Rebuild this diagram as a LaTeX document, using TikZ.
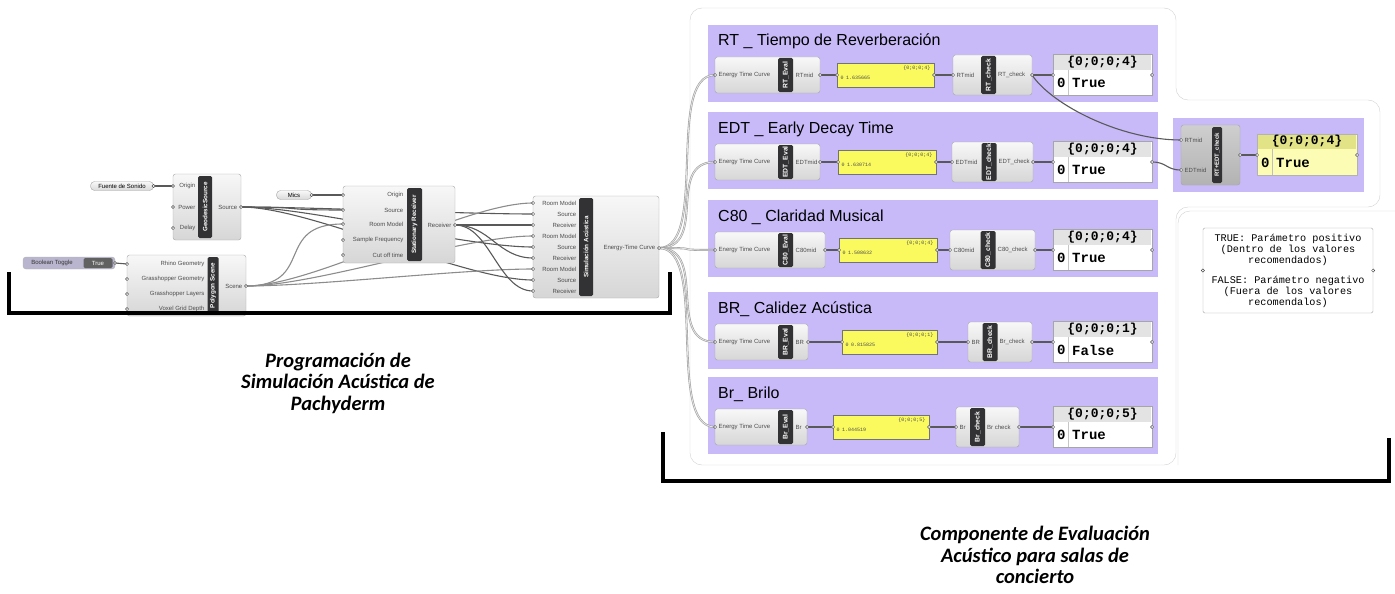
\documentclass[tikz,border=0pt]{standalone}
\usepackage{fontspec}
\setmainfont{Liberation Sans}
\newfontfamily\panelfont{Liberation Mono}
\newfontfamily\notefont{Carlito}
\usepackage{tikz}

\definecolor{grppurple}{RGB}{200,186,248}
\definecolor{panelyellow}{RGB}{250,250,95}
\definecolor{paleyellow}{RGB}{252,252,180}
\definecolor{headyellow}{RGB}{226,226,135}
\definecolor{stripdark}{RGB}{50,50,52}
\definecolor{togglegrey}{RGB}{186,181,206}

\pgfdeclarelayer{back}
\pgfdeclarelayer{wires}
\pgfsetlayers{back,wires,main}

\tikzset{
  comp/.style={draw=gray!70, rounded corners=2.5pt, top color=gray!6, bottom color=gray!32, inner sep=0pt},
  strip/.style={fill=stripdark, rounded corners=1.5pt, rotate=90, inner sep=0pt, text=white, font=\fontsize{6.3}{7}\selectfont\bfseries},
  rowstrip/.style={strip, minimum height=15, font=\fontsize{6.8}{7}\selectfont\bfseries},
  tag/.style={font=\fontsize{6}{7}\selectfont, text=black!70, inner sep=0.5pt},
  pill/.style={draw=gray!70, rounded corners=4pt, top color=gray!5, bottom color=gray!30, inner sep=0pt, font=\fontsize{6}{7}\selectfont},
  group/.style={fill=grppurple, inner sep=0pt},
  title/.style={font=\fontsize{16}{18}\selectfont, anchor=base west, inner sep=0pt},
  valpanel/.style={draw=black!55, fill=panelyellow, inner sep=0pt},
  valtext/.style={font=\panelfont\fontsize{5}{6}\selectfont, text=black!70, inner sep=0.5pt},
  respanel/.style={draw=gray!70, fill=white, inner sep=0pt, minimum width=99, minimum height=41},
  restext/.style={font=\panelfont\bfseries\fontsize{14}{15}\selectfont, inner sep=0pt},
  wire/.style={draw=black!65, line width=1.1pt},
  listwire/.style={draw=gray!75, double=gray!20, double distance=0.8pt, line width=0.6pt},
  grip/.style={draw=black!70, fill=white, line width=0.5pt},
  bracket/.style={line width=3.5pt},
  caption/.style={font=\notefont\bfseries\itshape\fontsize{20.5}{21.5}\selectfont, align=center}
}

\begin{document}
\begin{tikzpicture}[x=1pt,y=-1pt]
\useasboundingbox (0,0) rectangle (1395,594);

% white containers on the right
\begin{pgfonlayer}{back}
\draw[gray!35, fill=white, rounded corners=12pt] (690,8) -- (1176,8) -- (1176,100) -- (1380,100) -- (1380,207) -- (1176,207) -- (1176,465) -- (690,465) -- cycle;
\draw[gray!35, rounded corners=12pt] (1178,465) -- (1178,211) -- (1398,211);
\end{pgfonlayer}

% geodesic source
\node[pill, minimum width=63, minimum height=9] (fuente) at (122,186) {Fuente de Sonido};
\draw[grip] (fuente.east) circle (1.6pt);
\node[comp, minimum width=68, minimum height=66] (geo) at (207,207) {};
\node[strip, minimum width=62, minimum height=14] (geo-s) at (205,207) {GeodesicSource};
\foreach \y/\t [count=\k] in {186/Origin,207/Power,228/Delay}{
  \coordinate (geo-in\k) at (173,\y);
  \node[tag, anchor=east] (geo-t\k) at (196,\y) {\t};
  \draw[grip] (geo-in\k) circle (1.6pt);
}
\coordinate (geo-out) at (241,207);
\node[tag, anchor=east] (geo-o) at (238,207) {Source};
\draw[grip] (geo-out) circle (1.6pt);

% toggle and polygon scene
\node[draw=gray!60, fill=togglegrey, rounded corners=3pt, minimum width=92, minimum height=12, inner sep=0pt] (toggle) at (69,263) {};
\node[font=\fontsize{6}{7}\selectfont, text=black!80, inner sep=0pt] (toggle-t) at (52,263) {Boolean Toggle};
\node[fill=black!62, rounded corners=1.5pt, minimum width=29, minimum height=10, inner sep=0pt, text=white, font=\fontsize{6}{7}\selectfont] (toggle-v) at (98,263) {True};
\coordinate (toggle-out) at (115,263);
\draw[grip] (toggle-out) circle (1.6pt);
\node[comp, minimum width=119, minimum height=61] (scene) at (186.5,285.5) {};
\node[strip, minimum width=57, minimum height=11] (scene-s) at (213,285.5) {Polygon Scene};
\foreach \y/\t [count=\k] in {264/Rhino Geometry,279/Grasshopper Geometry,294/Grasshopper Layers,309/Voxel Grid Depth}{
  \coordinate (scene-in\k) at (127,\y);
  \node[tag, anchor=east] (scene-t\k) at (205,\y) {\t};
  \draw[grip] (scene-in\k) circle (1.6pt);
}
\coordinate (scene-out) at (246,286);
\node[tag, anchor=east] (scene-o) at (243,286) {Scene};
\draw[grip] (scene-out) circle (1.6pt);

% stationary receiver
\node[pill, minimum width=35, minimum height=9] (mics) at (294,195) {Mics};
\draw[grip] (mics.east) circle (1.6pt);
\node[comp, minimum width=112, minimum height=77] (recv) at (399,224.5) {};
\node[strip, minimum width=73, minimum height=15] (recv-s) at (414.5,224.5) {Stationary Receiver};
\foreach \y/\t [count=\k] in {195/Origin,210/Source,224/Room Model,240/Sample Frequency,255/Cut off time}{
  \coordinate (recv-in\k) at (343,\y);
  \node[tag, anchor=east] (recv-t\k) at (404,\y) {\t};
  \draw[grip] (recv-in\k) circle (1.6pt);
}
\coordinate (recv-out) at (455,225);
\node[tag, anchor=east] (recv-o) at (452,225) {Receiver};
\draw[grip] (recv-out) circle (1.6pt);

% simulation
\node[comp, minimum width=126, minimum height=102] (sim) at (596,247) {};
\node[strip, minimum width=98, minimum height=14] (sim-s) at (586,247) {Simulación Acústica};
\foreach \t [count=\k] in {Room Model,Source,Receiver,Room Model,Source,Receiver,Room Model,Source,Receiver}{
  \pgfmathsetmacro\yy{192+11*\k}
  \coordinate (sim-in\k) at (533,\yy);
  \node[tag, anchor=east] (sim-t\k) at (577,\yy) {\t};
  \draw[grip] (sim-in\k) circle (1.6pt);
}
\coordinate (sim-out) at (659,248);
\node[tag, anchor=east] (sim-o) at (656,248) {Energy-Time Curve};
\draw[grip] (sim-out) circle (1.6pt);

% wires, left part
\begin{pgfonlayer}{wires}
\draw[wire] (fuente.east) -- (geo-in1);
\draw[wire] (mics.east) -- (recv-in1);
\draw[wire] (toggle-out) -- (scene-in1);
\foreach \q in {recv-in2,sim-in2,sim-in5,sim-in8}
  \draw[wire] (geo-out) .. controls +(70,0) and +(-70,0) .. (\q);
\foreach \q in {recv-in3,sim-in1,sim-in4,sim-in7}
  \draw[wire, draw=black!45] (scene-out) .. controls +(70,0) and +(-70,0) .. (\q);
\foreach \q in {sim-in3,sim-in6,sim-in9}
  \draw[wire] (recv-out) .. controls +(35,0) and +(-35,0) .. (\q);
\end{pgfonlayer}

% evaluation rows
\foreach \r/\T/\ttl/\ev/\eo/\ci/\co/\cd/\ER/\YL/\YR/\CL/\CR/\SX/\val/\hd/\res in {
  1/25/RT \_ Tiempo de Reverberación/RT\_Eval/RTmid/RTmid/RT\_check/RT\_check/820/837/934/953/1032/988.5/1.635665/0;0;0;4/True,
  2/112/EDT \_ Early Decay Time/EDT\_Eval/EDTmid/EDTmid/EDT\_check/EDT\_check/820/838/936/952/1033/989/1.630714/0;0;0;4/True,
  3/200/C80 \_ Claridad Musical/C80\_Eval/C80mid/C80mid/C80\_check/C80\_check/825/839/937/950/1035/988/1.508632/0;0;0;4/True,
  4/292/BR\_ Calidez Acústica/BR\_Eval/BR/BR/Br\_check/BR\_check/808/842/937/968/1032/990/0.815825/0;0;0;1/False,
  5/377/Br\_ Brilo/Br\_Eval/Br/Br/Br check/Br\_check/807/833/929/956/1019/977.5/1.044519/0;0;0;5/True}{
  \pgfmathsetmacro\ew{\ER-715}
  \pgfmathsetmacro\ex{(\ER+715)/2}
  \pgfmathsetmacro\yw{\YR-\YL}
  \pgfmathsetmacro\yx{(\YR+\YL)/2}
  \pgfmathsetmacro\cw{\CR-\CL}
  \pgfmathsetmacro\cx{(\CR+\CL)/2}
  \pgfmathsetmacro\ym{\T+50}
  \begin{pgfonlayer}{back}
  \node[group, minimum width=450, minimum height=77] (grp\r) at (933,\T+38.5) {};
  \end{pgfonlayer}
  \node[title] (ttl\r) at (718,\T+21) {\ttl};
  % evaluator
  \node[comp, minimum width=\ew, minimum height=36] (ev\r) at (\ex,\ym) {};
  \node[rowstrip, minimum width=34] (ev\r-s) at (785.5,\ym) {\ev};
  \node[tag, anchor=west] (ev\r-t) at (718,\ym) {Energy Time Curve};
  \node[tag, anchor=west] (ev\r-o) at (795,\ym) {\eo};
  \coordinate (ev\r-in) at (715,\ym);
  \coordinate (ev\r-out) at (\ER,\ym);
  % value panel
  \node[valpanel, minimum width=\yw, minimum height=24] (val\r) at (\yx,\ym) {};
  \node[valtext, anchor=north east] (val\r-h) at (\YR-3,\T+40) {\{\hd\}};
  \node[valtext, anchor=west] (val\r-v) at (\YL+3,\T+53) {0\enspace\val};
  \coordinate (val\r-in) at (\YL,\ym);
  \coordinate (val\r-out) at (\YR,\ym);
  % check
  \node[comp, minimum width=\cw, minimum height=40] (ck\r) at (\cx,\ym) {};
  \node[rowstrip, minimum width=38] (ck\r-s) at (\SX,\ym) {\cd};
  \node[tag, anchor=west] (ck\r-i) at (\CL+3,\ym) {\ci};
  \node[tag, anchor=west] (ck\r-o) at (\SX+9,\ym) {\co};
  \coordinate (ck\r-in) at (\CL,\ym);
  \coordinate (ck\r-out) at (\CR,\ym);
  % result panel
  \node[respanel] (res\r) at (1102.5,\T+49.5) {};
  \fill[gray!22] (1053.6,\T+29.6) rectangle (1151.4,\T+45);
  \draw[gray!45] (1068,\T+45) -- (1068,\T+69.5);
  \node[restext, font=\panelfont\bfseries\fontsize{13}{14}\selectfont] (res\r-h) at (1102.5,\T+37.5) {\{\hd\}};
  \node[restext, anchor=west] (res\r-i) at (1057,\T+58) {0};
  \node[restext, anchor=west] (res\r-v) at (1072,\T+58) {\res};
  \coordinate (res\r-in) at (1053,\ym);
  \coordinate (res\r-out) at (1152,\ym);
  \begin{pgfonlayer}{wires}
  \draw[wire] (ev\r-out) -- (val\r-in);
  \draw[wire] (val\r-out) -- (ck\r-in);
  \draw[wire] (ck\r-out) -- (res\r-in);
  \end{pgfonlayer}
  \foreach \g in {ev\r-in,ev\r-out,val\r-in,val\r-out,ck\r-in,ck\r-out,res\r-in,res\r-out}
    \draw[grip] (\g) circle (1.6pt);
}

% combined RT + EDT check
\begin{pgfonlayer}{back}
\node[group, minimum width=191, minimum height=74] (grp6) at (1268.5,155) {};
\end{pgfonlayer}
\node[comp, top color=gray!38, bottom color=gray!60, minimum width=59, minimum height=60] (both) at (1210.5,155) {};
\node[rowstrip, minimum width=56, minimum height=10, font=\fontsize{6}{7}\selectfont\bfseries] (both-s) at (1217,155) {RT+EDT\_check};
\node[tag, anchor=west] (both-t1) at (1184,140) {RTmid};
\node[tag, anchor=west] (both-t2) at (1184,170) {EDTmid};
\coordinate (both-in1) at (1181,140);
\coordinate (both-in2) at (1181,170);
\coordinate (both-out) at (1240,155);
\node[draw=gray!60, fill=paleyellow, minimum width=100, minimum height=41, inner sep=0pt] (fin) at (1307,154.5) {};
\fill[headyellow] (1257.6,134.6) rectangle (1356.4,149);
\draw[gray!50] (1272,149) -- (1272,174.5);
\node[restext, font=\panelfont\bfseries\fontsize{13}{14}\selectfont] (fin-h) at (1307,141.5) {\{0;0;0;4\}};
\node[restext, anchor=west] (fin-i) at (1261,163) {0};
\node[restext, anchor=west] (fin-v) at (1276,163) {True};
\coordinate (fin-in) at (1257,155);
\coordinate (fin-out) at (1357,155);

% wires, right part
\begin{pgfonlayer}{wires}
\foreach \r in {1,...,5}
  \draw[listwire] (sim-out) .. controls +(50,0) and +(-50,0) .. (ev\r-in);
\draw[wire] (ck1-out) .. controls +(20,30) and +(-60,0) .. (both-in1);
\draw[wire] (res2-out) .. controls +(15,0) and +(-15,0) .. (both-in2);
\draw[wire] (both-out) -- (fin-in);
\end{pgfonlayer}
\foreach \g in {both-in1,both-in2,both-out,fin-in,fin-out}
  \draw[grip] (\g) circle (1.6pt);

% legend
\node[draw=gray!70, fill=white, rounded corners=1.5pt, minimum width=170, minimum height=85, inner sep=0pt, align=center, font=\panelfont\fontsize{10.2}{11}\selectfont] (legend) at (1288,270.5) {TRUE: Parámetro positivo\\(Dentro de los valores\\recomendados)\\[9pt]FALSE: Parámetro negativo\\(Fuera de los valores\\recomendalos)};
\draw[grip] (legend.west) circle (1.6pt);
\draw[grip] (legend.east) circle (1.6pt);

% brackets and captions
\draw[bracket] (9,272) -- (9,313) -- (670,313) -- (670,272);
\draw[bracket] (663,432) -- (663,481) -- (1389,481) -- (1389,438);
\node[caption] (cap1) at (338,383) {Programación de\\Simulación Acústica de\\Pachyderm};
\node[caption] (cap2) at (1035,555) {Componente de Evaluación\\Acústico para salas de\\concierto};
\end{tikzpicture}
\end{document}
